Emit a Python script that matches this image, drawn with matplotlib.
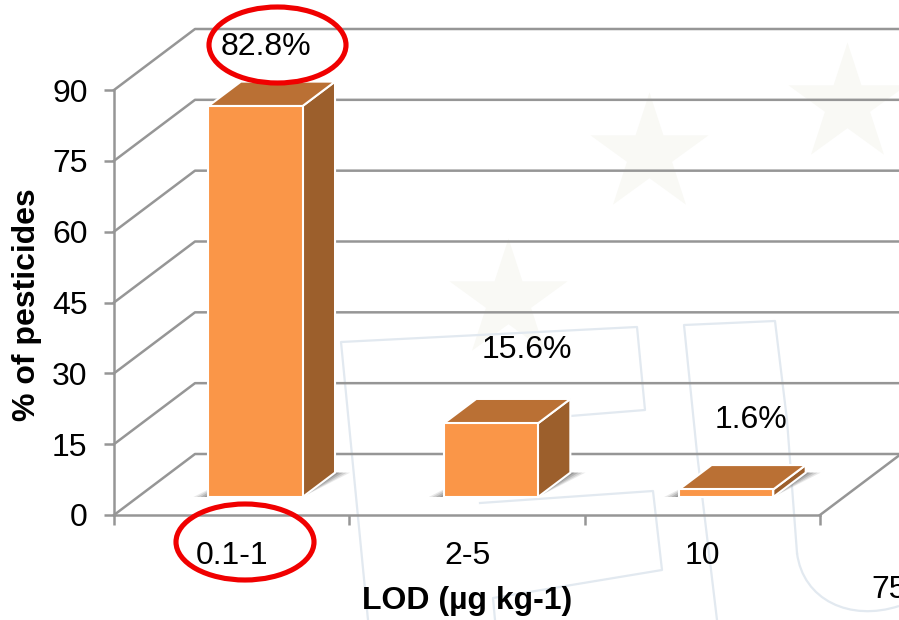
#!/usr/bin/env python
"""% of pesticides per LOD class: fake-3D bars on a wall/floor, with watermark and red circles."""
import matplotlib
matplotlib.use("Agg")
import matplotlib.pyplot as plt
from matplotlib.patches import Ellipse, PathPatch
from matplotlib.path import Path

plt.rcParams["font.family"] = ["Liberation Sans", "DejaVu Sans"]

categories = ["0.1-1", "2-5", "10"]
values = [82.8, 15.6, 1.6]
value_labels = ["82.8%", "15.6%", "1.6%"]
y_ticks = [0, 15, 30, 45, 60, 75, 90]

W, H = 899, 620
AX_L, AX_R, AX_T, AX_B = 114, 820, 90, 515
FS = 23
GRID = "#969696"
WM = "#e2e9f0"
FRONT, TOP, SIDE = "#fa9648", "#ba7034", "#9c5f2c"

# depth of the box in data units per unit of depth
DX = 81 / ((AX_R - AX_L) / 3)
DY = 61 / ((AX_B - AX_T) / 90)
BAR_W = 0.4
D0, D1 = 0.295, 0.695          # bar footprint inside the floor


def proj(x, y, d):
    return x + d * DX, y + d * DY


fig = plt.figure(figsize=(W / 100, H / 100), dpi=100)

# ---- background watermark, in pixel coordinates ----
bg = fig.add_axes([0, 0, 1, 1], zorder=0)
bg.set_xlim(0, W); bg.set_ylim(H, 0); bg.axis("off")
star_x = [649, 847, 508]
star_y = [154, 104, 300]
bg.scatter(star_x, star_y, marker="*", s=8000, color="#f9f9f5", linewidths=0)
wm_lines = [
    ([368, 341, 637, 645, 570], [620, 342, 327, 410, 416]),
    ([480, 653, 662, 493, 495], [503, 491, 570, 598, 620]),
    ([717, 697, 684, 775, 787, 797], [620, 453, 325, 321, 420, 553]),
]
for xs, ys in wm_lines:
    bg.plot(xs, ys, color=WM, lw=1.6)
# bowl of the U
bowl = Path([(797, 553), (803, 600), (850, 622), (899, 606)],
            [Path.MOVETO, Path.CURVE4, Path.CURVE4, Path.CURVE4])
bg.add_patch(PathPatch(bowl, fc="none", ec=WM, lw=1.6))

# ---- main chart ----
ax = fig.add_axes([AX_L / W, 1 - AX_B / H, (AX_R - AX_L) / W, (AX_B - AX_T) / H], zorder=1)
ax.patch.set_alpha(0)
ax.set_xlim(0, 3); ax.set_ylim(0, 90)

for v in y_ticks:
    x1, y1 = proj(0, v, 1)
    x2, y2 = proj(3, v, 1)
    ax.plot([0, x1, x2], [v, y1, y2], color=GRID, lw=1.8, clip_on=False, zorder=1)
x1, y1 = proj(3, 0, 1)
ax.plot([3, x1], [0, y1], color=GRID, lw=1.8, clip_on=False, zorder=1)

for i, v in enumerate(values):
    l, r = i + 0.5 - BAR_W / 2, i + 0.5 + BAR_W / 2
    fl, bot = proj(l, 0, D0)
    fr, _ = proj(r, 0, D0)
    bl, back = proj(l, 0, D1)
    br, _ = proj(r, 0, D1)
    # soft floor shadow
    for e, a in [(0.064, 0.14), (0.05, 0.2), (0.034, 0.28), (0.018, 0.36)]:
        ax.fill([fl - e, fr, br + e, bl], [bot, bot, back, back], color="#6a6a6a",
                alpha=a, lw=0, clip_on=False, zorder=2)
    top_f, top_b = bot + v, back + v
    ax.fill([fr, br, br, fr], [bot, back, top_b, top_f], color=SIDE, ec="white", lw=1.5,
            clip_on=False, zorder=3)
    ax.fill([fl, fr, br, bl], [top_f, top_f, top_b, top_b], color=TOP, ec="white", lw=1.5,
            clip_on=False, zorder=3)
    ax.fill([fl, fr, fr, fl], [bot, bot, top_f, top_f], color=FRONT, ec="white", lw=1.5,
            clip_on=False, zorder=4)

ax.set_yticks(y_ticks)
ax.set_xticks([0, 1, 2, 3])
ax.set_xticklabels([])
ax.set_xticks([0.5, 1.5, 2.5], labels=categories, minor=True)
ax.tick_params(axis="both", which="major", length=7, width=1.8, color=GRID, labelsize=FS, pad=12)
ax.tick_params(axis="x", which="minor", length=0, labelsize=FS, pad=18.5)
for s in ["top", "right"]:
    ax.spines[s].set_visible(False)
for s in ["left", "bottom"]:
    ax.spines[s].set_color(GRID); ax.spines[s].set_linewidth(1.8)

ax.set_xlabel("LOD (µg kg-1)", fontsize=FS, fontweight="bold", va="center")
ax.xaxis.set_label_coords(467 / W, 1 - 601 / H, transform=fig.transFigure)
ax.set_ylabel("% of pesticides", fontsize=FS, fontweight="bold", va="center")
ax.yaxis.set_label_coords(27 / W, 1 - 305 / H, transform=fig.transFigure)

# ---- overlay: value labels, red circles, stray slide number ----
top = fig.add_axes([0, 0, 1, 1], zorder=2)
top.set_xlim(0, W); top.set_ylim(H, 0); top.axis("off")
label_x = [266, 527, 751]
label_y = [47, 350, 420]
for t, x, y in zip(value_labels, label_x, label_y):
    top.text(x, y, t, fontsize=FS, ha="center", va="center")
top.text(871, 590, "75", fontsize=FS, ha="left", va="center", clip_on=True)
top.add_patch(Ellipse((277.5, 45), 137, 76, fc="none", ec="#f00000", lw=3.7))
top.add_patch(Ellipse((245, 542), 138, 76, fc="none", ec="#f00000", lw=3.7))

fig.savefig("out.png", dpi=100)
